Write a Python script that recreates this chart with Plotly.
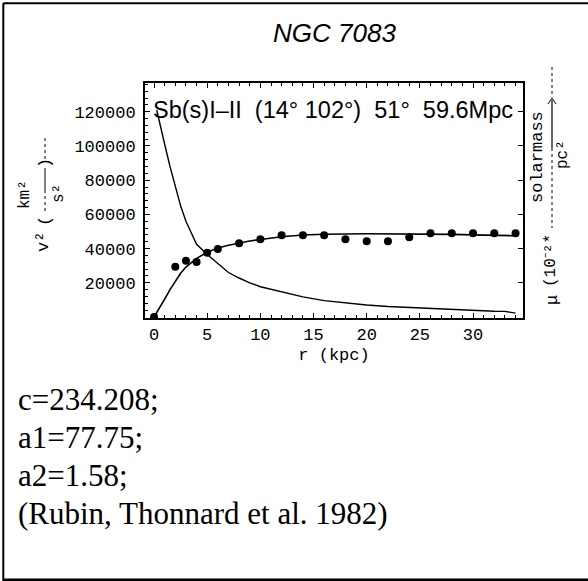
import plotly.graph_objects as go

# ---------------- data ----------------
r_obs = [0, 2, 3, 4, 5, 6, 8, 10, 12, 14, 16, 18, 20, 22, 24, 26, 28, 30, 32, 34]
v2_obs = [0, 29400, 32900, 32200, 37600, 39800, 43100, 45400, 47800, 47800, 47800,
          45400, 44300, 44300, 46600, 48900, 48900, 48900, 48900, 48900]

r_fit = [0, 0.5, 1, 1.5, 2, 2.5, 3, 3.5, 4, 5, 6, 7, 8, 9, 10, 12, 14, 16, 20, 24, 28, 30, 34]
v2_fit = [0, 5000, 10500, 16000, 21200, 25600, 29200, 32000, 34300, 37800, 40300, 42000,
          43300, 44400, 45300, 46900, 47900, 48400, 48700, 48600, 48300, 48000, 47500]

r_mu = [0.25, 0.5, 1, 1.5, 2, 2.5, 3, 3.5, 4, 5, 6, 7, 8, 9, 10, 12, 14, 16, 18, 20,
        22, 24, 26, 28, 30, 32, 33, 34]
mu = [121000, 114000, 101000, 88000, 76000, 65000, 56000, 49000, 42500, 36500, 31000,
      26000, 22800, 20000, 17700, 14600, 11800, 9600, 8200, 7000, 6100, 5500, 5000,
      4300, 3800, 3400, 3300, 2300]

x_ticks = [0, 5, 10, 15, 20, 25, 30]
y_ticks = [20000, 40000, 60000, 80000, 100000, 120000]

title_text = "NGC 7083"
info_text = "Sb(s)I\u2013II  (14\u00b0 102\u00b0)  51\u00b0  59.6Mpc"
notes = ["c=234.208;", "a1=77.75;", "a2=1.58;", "(Rubin, Thonnard et al. 1982)"]

# ---------------- layout geometry ----------------
W, H = 588, 581
L, R, T, B = 145, 523, 83, 318
X_RANGE = [-0.85, 34.7]
Y_RANGE = [-585, 136800]


def px(x):
    return (x - L) / (R - L)


def py(y):
    return (B - y) / (B - T)


mono = "Liberation Mono"
fig = go.Figure()

fig.add_trace(go.Scatter(x=r_mu, y=mu, mode="lines", yaxis="y2",
                         line=dict(color="black", width=1.4), showlegend=False))
fig.add_trace(go.Scatter(x=r_fit, y=v2_fit, mode="lines",
                         line=dict(color="black", width=1.6), showlegend=False))
fig.add_trace(go.Scatter(x=r_obs, y=v2_obs, mode="markers",
                         marker=dict(color="black", size=8, symbol="circle"),
                         showlegend=False))

fig.update_layout(
    width=W, height=H,
    margin=dict(l=L, r=W - R, t=T, b=H - B, pad=0),
    paper_bgcolor="white", plot_bgcolor="white",
    xaxis=dict(range=X_RANGE, tickvals=x_ticks, ticks="inside", ticklen=5,
               tickwidth=1, tickcolor="black", showline=True, linecolor="black",
               linewidth=2, mirror="ticks", showgrid=False, zeroline=False,
               tickfont=dict(family=mono, size=17, color="black"),
               minor=dict(dtick=1, ticks="inside", ticklen=3, tickcolor="black",
                          showgrid=False),
               title=dict(text="r (kpc)", font=dict(family=mono, size=17, color="black"),
                          standoff=4)),
    yaxis=dict(range=Y_RANGE, tickvals=y_ticks, ticktext=[str(v) for v in y_ticks],
               ticks="inside", ticklen=5,
               tickwidth=1, tickcolor="black", showline=True, linecolor="black",
               linewidth=2, showgrid=False, zeroline=False,
               tickfont=dict(family=mono, size=17, color="black"),
               ticklabelstandoff=4,
               minor=dict(dtick=4000, ticks="inside", ticklen=3, tickcolor="black",
                          showgrid=False)),
    yaxis2=dict(range=Y_RANGE, overlaying="y", side="right", tickvals=y_ticks,
                ticks="inside", ticklen=5, tickcolor="black", showline=True,
                linecolor="black", linewidth=2, showticklabels=False,
                showgrid=False, zeroline=False),
)

ann = []


def add_text(x, y, text, size, family=mono, angle=0, xanchor="center", italic=False):
    ann.append(dict(x=px(x), y=py(y), xref="paper", yref="paper", text=text,
                    showarrow=False, textangle=angle, xanchor=xanchor, yanchor="middle",
                    font=dict(family=family, size=size, color="black",
                              style="italic" if italic else "normal")))


add_text(334, 33, title_text, 26, family="Liberation Sans", italic=True)
add_text(151, 110, info_text, 23.5, family="Liberation Sans", xanchor="left")

# left axis label pieces (v^2 (km^2/s^2))
add_text(43, 242, "v\u00b2", 17, angle=-90)
add_text(45, 221, "(", 17, angle=-90)
add_text(45, 163, ")", 17, angle=-90)
add_text(25, 195, "km\u00b2", 16, angle=-90)
add_text(59, 194, "s\u00b2", 16, angle=-90)

# right axis label pieces (mu (10^-2 * solarmass/pc^2))
add_text(552, 300, "\u03bc", 17, angle=-90)
add_text(551, 261, "(10\u207b\u00b2*", 16, angle=-90)
add_text(537, 157, "solarmass", 17, angle=-90)
add_text(563, 155, "pc\u00b2", 16, angle=-90)

# bottom notes
for i, t in enumerate(notes):
    add_text(16, 399 + i * 38, t, 31, family="Liberation Serif", xanchor="left")

shapes = []


def line(x0, y0, x1, y1, width=1, dash="solid"):
    shapes.append(dict(type="line", xref="paper", yref="paper",
                       x0=px(x0), y0=py(y0), x1=px(x1), y1=py(y1),
                       line=dict(color="black", width=width, dash=dash)))


# outer frame
line(3.3, 3.2, 588, 3.2, width=2)
line(3.3, 3.2, 3.3, 581, width=2)
line(3.3, 579.8, 588, 579.8, width=2.5)

# fraction bars
line(45, 138, 45, 160, width=1, dash="dot")
line(45, 168, 45, 190, width=1)
line(45, 190, 45, 214, width=1, dash="dot")
line(552, 67, 552, 95, width=1, dash="dot")
line(552, 100, 552, 148, width=1.2)
line(552, 148, 552, 228, width=1, dash="dot")
line(552, 98, 548, 104, width=1)
line(552, 98, 556, 104, width=1)

fig.update_layout(annotations=ann, shapes=shapes)

fig.write_html("out.html")
